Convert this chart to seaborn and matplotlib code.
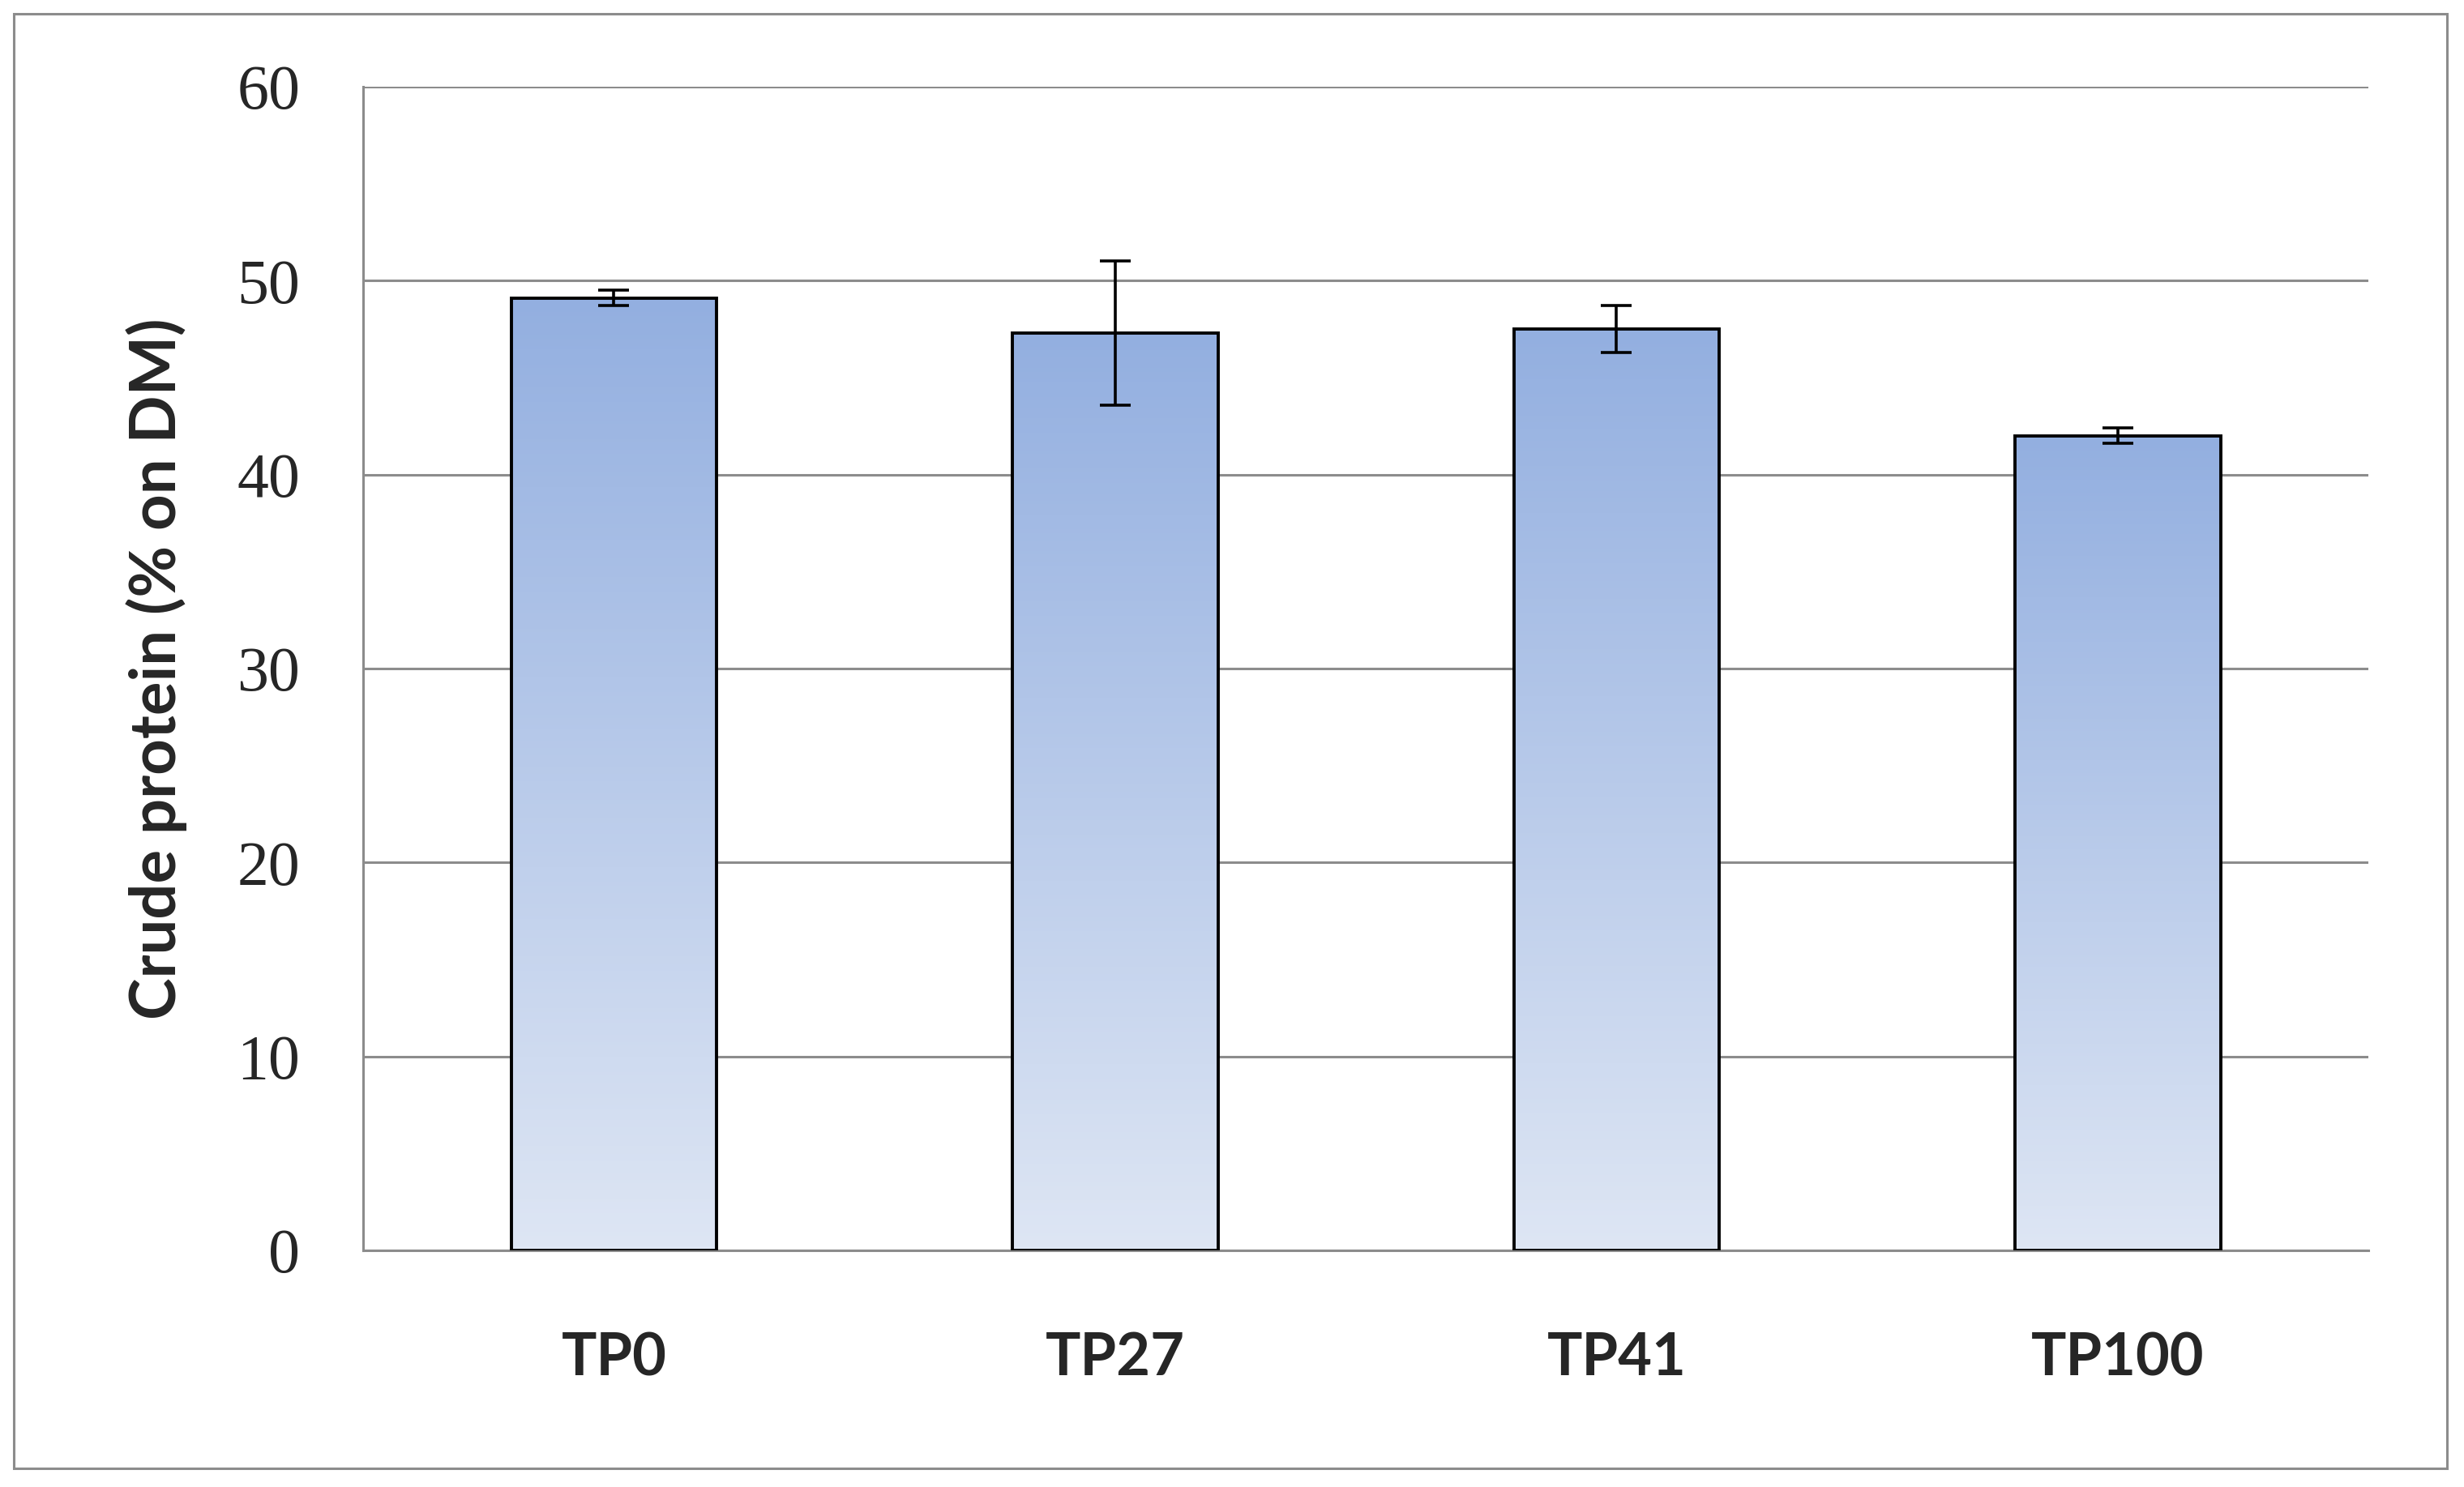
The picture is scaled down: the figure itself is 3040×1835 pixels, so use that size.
import numpy as np
import pandas as pd
import matplotlib
matplotlib.use("Agg")
import matplotlib.pyplot as plt
import seaborn as sns
from matplotlib.patches import Rectangle
from matplotlib.colors import LinearSegmentedColormap

# data
treatments = ["TP0", "TP27", "TP41", "TP100"]
crude_protein = [49.1, 47.3, 47.5, 42.0]
sd = [0.4, 3.7, 1.2, 0.4]
yticks = [0, 10, 20, 30, 40, 50, 60]

sns.set_style("white")
plt.rcParams["font.family"] = ["Lato", "DejaVu Sans"]

fig = plt.figure(figsize=(15.2, 9.175), dpi=200)
ax = fig.add_axes([0.1474, 0.1591, 0.8138, 0.7826])

df = pd.DataFrame({"treatment": treatments, "cp": crude_protein})
sns.barplot(data=df, x="treatment", y="cp", width=0.41, color="#a8bde6",
            edgecolor="black", linewidth=1.4, ax=ax, zorder=3)

# vertical gradient fill, Excel style
grad = LinearSegmentedColormap.from_list("g", ["#dee6f4", "#93afe0"])
for p in ax.patches:
    x0, y0 = p.get_x(), p.get_y()
    w, h = p.get_width(), p.get_height()
    im = ax.imshow(np.linspace(0, 1, 256).reshape(-1, 1), cmap=grad, origin="lower",
                   extent=[x0, x0 + w, y0, y0 + h], aspect="auto", zorder=3.5)
    im.set_clip_path(p)
    p.set_facecolor("none")
    p.set_zorder(4)

ax.errorbar(x=np.arange(len(treatments)), y=crude_protein, yerr=sd, fmt="none",
            ecolor="black", elinewidth=1.3, capsize=7, capthick=1.3, zorder=5)

ax.set_xlim(-0.5, len(treatments) - 0.5)
ax.set_ylim(0, 60)
ax.set_yticks(yticks)
ax.set_yticklabels([str(v) for v in yticks], family="Liberation Serif", fontsize=28)

ax.set_xticks(np.arange(-0.5, len(treatments), 1))
ax.set_xticklabels([""] * (len(treatments) + 1))
ax.set_xticks(np.arange(len(treatments)), minor=True)
ax.set_xticklabels(treatments, minor=True, fontsize=26, fontweight="bold")
ax.tick_params(axis="x", which="minor", length=0, pad=36)
ax.tick_params(axis="x", which="major", length=10, width=1.1, color="#8c8c8c", direction="out")
ax.tick_params(axis="y", length=10, width=1.1, color="#8c8c8c", direction="out", pad=18)

ax.set_xlabel("")
ax.set_ylabel("Crude protein (% on DM)", fontsize=28, fontweight="bold", labelpad=22)

ax.set_axisbelow(True)
ax.yaxis.grid(True, color="#8c8c8c", linewidth=1.1)
for s in ["top", "right"]:
    ax.spines[s].set_visible(False)
for s in ["left", "bottom"]:
    ax.spines[s].set_color("#8c8c8c")
    ax.spines[s].set_linewidth(1.1)

fig.patches.append(Rectangle((0.0056, 0.0125), 0.9875, 0.9782, transform=fig.transFigure,
                             fill=False, edgecolor="#8c8c8c", linewidth=1.1))

fig.savefig("out.png", dpi=200)
